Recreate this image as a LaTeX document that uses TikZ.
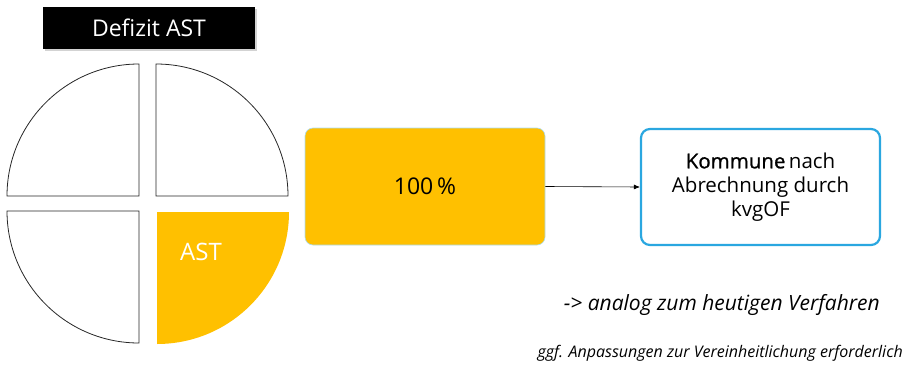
\documentclass[tikz,border=0pt]{standalone}
\usepackage{fontspec}
\setmainfont{Open Sans}
\newfontfamily\semib[FakeBold=0.9]{Open Sans}
\usetikzlibrary{arrows.meta,shadows}
\definecolor{ayellow}{HTML}{FFC000}
\definecolor{ablue}{HTML}{2AA7E0}
\tikzset{
  quad/.style={draw=black!85, line width=0.8pt, fill=white},
  ybox/.style={fill=ayellow, draw=ablue!40, line width=0.6pt, rounded corners=8pt, minimum width=240pt, minimum height=117pt},
  bbox/.style={fill=white, draw=ablue, line width=2.2pt, rounded corners=9pt, minimum width=239pt, minimum height=116pt, align=center, font=\fontsize{20.5}{24}\selectfont},
  note/.style={font=\itshape, anchor=east, inner sep=0pt}
}
\begin{document}
\begin{tikzpicture}[x=1pt,y=1pt]
\useasboundingbox (0,0) rectangle (904,365);
% title
\node[fill=black, minimum width=212pt, minimum height=42pt, inner sep=0pt, text=white,
      font=\fontsize{23}{26}\selectfont, drop shadow={shadow xshift=2pt, shadow yshift=-2pt, opacity=0.35}]
  (title) at (149,337) {Defizit AST};
% quadrants
\draw[quad] (139,169) -- (7,169) arc[start angle=180, end angle=90, radius=132] -- cycle;
\draw[quad] (156,169) -- (156,301) arc[start angle=90, end angle=0, radius=132] -- cycle;
\draw[quad] (139,154) -- (7,154) arc[start angle=180, end angle=270, radius=132] -- cycle;
\fill[ayellow] (157,153) -- (289,153) arc[start angle=0, end angle=-90, radius=132] -- cycle;
\node[text=white, font=\fontsize{24}{26}\selectfont] (ast) at (201,113) {AST};
% boxes
\node[ybox, font=\fontsize{23}{26}\selectfont] (pct) at (425,178.5) {100\,\%};
\node[bbox] (kom) at (760.5,178) {{\semib Kommune}\,nach\\Abrechnung durch\\kvgOF};
\draw[-{Latex[length=6pt,width=5pt]}, line width=0.6pt] (pct.east) -- (kom.west);
% notes
\node[note, font=\itshape\fontsize{21}{24}\selectfont] (n1) at (880,60) {-> analog zum heutigen Verfahren};
\node[note, font=\itshape\fontsize{16}{18}\selectfont] (n2) at (903,12) {ggf. Anpassungen zur Vereinheitlichung erforderlich};
\end{tikzpicture}
\end{document}
